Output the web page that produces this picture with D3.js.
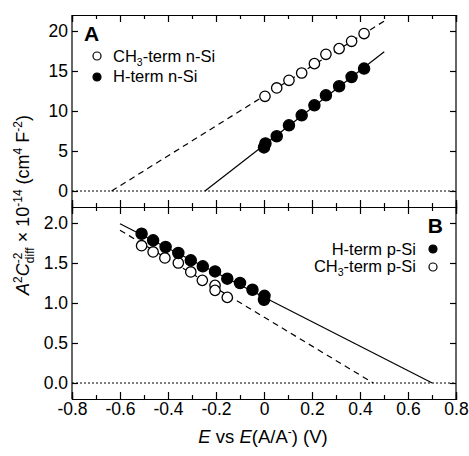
<!DOCTYPE html>
<html>
<head>
<meta charset="utf-8">
<script src="https://cdn.jsdelivr.net/npm/d3@7"></script>
<style>
  body { margin: 0; background: #fff; }
  svg { font-family: "Liberation Sans", Arial, sans-serif; }
  .axis path, .axis line { stroke: #000; stroke-width: 1.2; }
  .axis text { font-size: 17.5px; fill: #000; font-family: "Liberation Sans", Arial, sans-serif; }
</style>
</head>
<body>
<div id="chart"></div>
<script>
// ---- data ----
// panel A : n-Si
var nCH3_E = [0.004, 0.053, 0.104, 0.157, 0.210, 0.258, 0.313, 0.365, 0.417];
var nCH3_V = [11.84, 12.88, 13.84, 14.75, 15.92, 17.09, 17.8, 18.71, 19.68];
var nH_E = [0.0, 0.006, 0.053, 0.104, 0.157, 0.210, 0.258, 0.313, 0.365, 0.417];
var nH_V = [5.45, 5.95, 6.84, 8.21, 9.46, 10.71, 11.96, 13.09, 14.25, 15.3];
// fitted lines (end points)
var fitA_CH3 = [[-0.635, 0], [0.504, 21.3]];
var fitA_H = [[-0.246, 0], [0.501, 17.4]];

// panel B : p-Si
var pH_E = [-0.51, -0.462, -0.41, -0.357, -0.305, -0.255, -0.204, -0.153, -0.1, -0.048, 0.0, 0.002];
var pH_V = [1.866, 1.783, 1.70, 1.625, 1.533, 1.458, 1.395, 1.304, 1.25, 1.166, 1.04, 1.09];
var pCH3_E = [-0.51, -0.462, -0.413, -0.357, -0.305, -0.257, -0.204, -0.204, -0.153];
var pCH3_V = [1.716, 1.638, 1.563, 1.50, 1.388, 1.283, 1.22, 1.158, 1.07];
var fitB_H = [[-0.6, 1.99], [0.701, 0]];
var fitB_CH3 = [[-0.6, 1.91], [0.455, 0]];

var xTicks = [-0.8, -0.6, -0.4, -0.2, 0, 0.2, 0.4, 0.6, 0.8];
var xMinor = [-0.7, -0.5, -0.3, -0.1, 0.1, 0.3, 0.5, 0.7];
var yTicksA = [0, 5, 10, 15, 20];
var yTicksB = [0, 0.5, 1.0, 1.5, 2.0];

var svgWidth = 469, svgHeight = 456;
// plot frame edges
var pLeft = 72, pRight = 456, pTop = 15, pMid = 207, pBottom = 399;

var svg = d3.select("#chart").append("svg")
  .attr("width", svgWidth)
  .attr("height", svgHeight);

var x = d3.scaleLinear().domain([-0.8, 0.8]).range([pLeft, pRight]);
var yA = d3.scaleLinear().domain([-2, 22]).range([pMid, pTop]);
var yB = d3.scaleLinear().domain([-0.2, 2.2]).range([pBottom, pMid]);

function zip(a, b) { return a.map((d, i) => [d, b[i]]); }
// plain hyphen minus, like the original
function fmt(d) { return d === 0 ? "0" : d3.format(".1f")(d).replace("−", "-"); }

// ---- axes ----
function xAxes(yPos, dir) {
  var mk = dir === "bottom" ? d3.axisBottom : d3.axisTop;
  var major = mk(x).tickValues(xTicks).tickSize(-7).tickPadding(4).tickFormat(fmt);
  var minor = mk(x).tickValues(xMinor).tickSize(-4).tickFormat("");
  var g = svg.append("g").attr("class", "axis")
    .attr("transform", `translate(0,${yPos})`).call(major);
  svg.append("g").attr("class", "axis")
    .attr("transform", `translate(0,${yPos})`).call(minor);
  return g;
}

// bottom of panel B, with labels
xAxes(pBottom, "bottom");
// top of panel A
xAxes(pTop, "top").selectAll("text").remove();
// divider: ticks into both panels
xAxes(pMid, "top").selectAll("text").remove();
xAxes(pMid, "bottom").selectAll("text").remove();

// y axes
svg.append("g").attr("class", "axis")
  .attr("transform", `translate(${pLeft},0)`)
  .call(d3.axisLeft(yA).tickValues(yTicksA).tickSize(-6).tickPadding(4))
  .select(".domain").attr("d", `M0,${pTop}V${pMid}`);
svg.append("g").attr("class", "axis")
  .attr("transform", `translate(${pRight},0)`)
  .call(d3.axisRight(yA).tickValues(yTicksA).tickSize(-6).tickFormat(""))
  .select(".domain").attr("d", `M0,${pTop}V${pMid}`);
svg.append("g").attr("class", "axis")
  .attr("transform", `translate(${pLeft},0)`)
  .call(d3.axisLeft(yB).tickValues(yTicksB).tickSize(-6).tickPadding(4).tickFormat(d3.format(".1f")))
  .select(".domain").attr("d", `M0,${pMid}V${pBottom}`);
svg.append("g").attr("class", "axis")
  .attr("transform", `translate(${pRight},0)`)
  .call(d3.axisRight(yB).tickValues(yTicksB).tickSize(-6).tickFormat(""))
  .select(".domain").attr("d", `M0,${pMid}V${pBottom}`);

// zero lines
[yA, yB].forEach(function(y) {
  svg.append("line")
    .attr("x1", x(-0.8)).attr("x2", x(0.8))
    .attr("y1", y(0)).attr("y2", y(0))
    .attr("stroke", "#000").attr("stroke-width", 1)
    .attr("stroke-dasharray", "2,2");
});

// fit lines
function fitLine(pts, y, dash) {
  var line = d3.line().x(d => x(d[0])).y(d => y(d[1]));
  svg.append("path").datum(pts)
    .attr("d", line)
    .attr("fill", "none")
    .attr("stroke", "#000")
    .attr("stroke-width", 1.2)
    .attr("stroke-dasharray", dash ? "6,4.5" : null);
}
fitLine(fitA_CH3, yA, true);
fitLine(fitA_H, yA, false);
fitLine(fitB_CH3, yB, true);
fitLine(fitB_H, yB, false);

// points
function points(data, y, filled) {
  svg.append("g").selectAll("circle")
    .data(data).enter().append("circle")
    .attr("cx", d => x(d[0]))
    .attr("cy", d => y(d[1]))
    .attr("r", filled ? 5.6 : 5.2)
    .attr("fill", filled ? "#000" : "#fff")
    .attr("stroke", "#000")
    .attr("stroke-width", 1.3);
}
points(zip(nCH3_E, nCH3_V), yA, false);
points(zip(nH_E, nH_V), yA, true);
points(zip(pCH3_E, pCH3_V), yB, false);
points(zip(pH_E, pH_V), yB, true);

// ---- panel labels and legends ----
svg.append("text").attr("x", 84).attr("y", 41)
  .attr("font-size", 21).attr("font-weight", "bold").text("A");
svg.append("text").attr("x", 443).attr("y", 233)
  .attr("text-anchor", "end")
  .attr("font-size", 21).attr("font-weight", "bold").text("B");

function legendMark(cx, cy, filled) {
  svg.append("circle").attr("cx", cx).attr("cy", cy).attr("r", 4)
    .attr("fill", filled ? "#000" : "#fff")
    .attr("stroke", "#000").attr("stroke-width", 1.2);
}
function legendText(tx, ty, parts, anchor) {
  var t = svg.append("text").attr("x", tx).attr("y", ty)
    .attr("font-size", 16.5).attr("text-anchor", anchor);
  parts.forEach(function(p) {
    var s = t.append("tspan").text(p.t);
    if (p.sub) s.attr("font-size", 10.5).attr("dy", 4);
    if (p.back) s.attr("dy", -4);
  });
}
legendMark(97, 56, false);
legendText(113, 62, [{t: "CH"}, {t: "3", sub: true}, {t: "-term n-Si", back: true}], "start");
legendMark(97, 77, true);
legendText(113, 82, [{t: "H-term n-Si"}], "start");

legendMark(433, 249, true);
legendText(416, 255, [{t: "H-term p-Si"}], "end");
legendMark(433, 267, false);
legendText(416, 272, [{t: "CH"}, {t: "3", sub: true}, {t: "-term p-Si", back: true}], "end");

// ---- axis titles ----
var xt = svg.append("text").attr("x", 263).attr("y", 443)
  .attr("text-anchor", "middle").attr("font-size", 18.5);
xt.append("tspan").attr("font-style", "italic").text("E");
xt.append("tspan").text(" vs ");
xt.append("tspan").attr("font-style", "italic").text("E");
xt.append("tspan").text("(A/A");
xt.append("tspan").attr("font-size", 12).attr("dy", -7).text("-");
xt.append("tspan").attr("dy", 7).text(") (V)");

var yt = svg.append("text")
  .attr("transform", "translate(29,295) rotate(-90)")
  .attr("font-size", 18);
yt.append("tspan").attr("font-style", "italic").text("A");
yt.append("tspan").attr("font-size", 12).attr("dy", -7).text("2");
yt.append("tspan").attr("font-style", "italic").attr("dy", 7).text("C");
yt.append("tspan").attr("font-size", 12).attr("dy", -7).text("-2");
yt.append("tspan").attr("font-size", 12).attr("dx", -10.5).attr("dy", 12).text("diff");
yt.append("tspan").attr("dy", -5).text(" × 10");
yt.append("tspan").attr("font-size", 12).attr("dy", -7).text("-14");
yt.append("tspan").attr("dy", 7).text(" (cm");
yt.append("tspan").attr("font-size", 12).attr("dy", -7).text("4");
yt.append("tspan").attr("dy", 7).text(" F");
yt.append("tspan").attr("font-size", 12).attr("dy", -7).text("-2");
yt.append("tspan").attr("dy", 7).text(")");
</script>
</body>
</html>
